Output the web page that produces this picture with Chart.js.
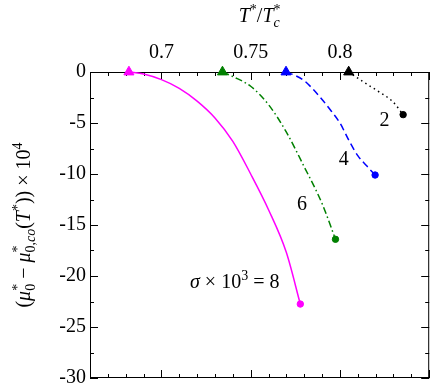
<!DOCTYPE html>
<html>
<head>
<meta charset="utf-8">
<script src="https://cdn.jsdelivr.net/npm/chart.js@4.4.1/dist/chart.umd.min.js"></script>
<style>
html,body{margin:0;padding:0;background:#fff;}
canvas{display:block;}
</style>
</head>
<body>
<canvas id="c" width="436" height="390"></canvas>
<script>
// ---- data ----
const xTickValues = [0.7, 0.75, 0.8];
const yTickValues = [0, -5, -10, -15, -20, -25, -30];

const sigmaLabels = ['8', '6', '4', '2'];

const temps8 = [0.6818, 0.690, 0.700, 0.710, 0.720, 0.730, 0.740, 0.750, 0.760, 0.770, 0.7778];
const mu8    = [0, -0.2, -0.75, -1.6, -2.85, -4.5, -6.8, -10.0, -13.5, -17.7, -22.75];

const temps6 = [0.7342, 0.740, 0.750, 0.760, 0.770, 0.780, 0.790, 0.7975];
const mu6    = [0, -0.45, -1.4, -3.2, -5.9, -9.3, -12.9, -16.4];

const temps4 = [0.7698, 0.775, 0.780, 0.785, 0.790, 0.795, 0.800, 0.805, 0.810, 0.815, 0.8197];
const mu4    = [0, -0.35, -0.85, -1.7, -2.7, -3.8, -5.0, -6.7, -8.2, -9.2, -10.1];

const temps2 = [0.8049, 0.8132, 0.8206, 0.8298, 0.8354];
const mu2    = [0, -0.98, -1.8, -2.94, -4.18];

// ---- styling ----
const FONT = '"Liberation Serif", "DejaVu Serif", serif';
const series = [
  {T: temps8, mu: mu8, color: '#ff00ff', dash: []},
  {T: temps6, mu: mu6, color: '#008000', dash: [7, 3, 1.5, 3]},
  {T: temps4, mu: mu4, color: '#0000ff', dash: [7, 4]},
  {T: temps2, mu: mu2, color: '#000000', dash: [1.5, 3.5]}
];

function toPoints(T, mu) { return T.map((t, i) => ({x: t, y: mu[i]})); }

const datasets = series.map((s, k) => ({
  label: sigmaLabels[k],
  data: toPoints(s.T, s.mu),
  showLine: true,
  borderColor: s.color,
  backgroundColor: s.color,
  borderWidth: 1.5,
  borderDash: s.dash,
  cubicInterpolationMode: 'monotone',
  clip: false,
  pointStyle: c => c.dataIndex === 0 ? 'triangle' : 'circle',
  pointRadius: c => c.dataIndex === 0 ? 5.8 : (c.dataIndex === c.dataset.data.length - 1 ? 3.2 : 0),
  pointHoverRadius: 0,
  pointBorderWidth: 1,
  pointBackgroundColor: s.color,
  pointBorderColor: s.color
}));

// ---- rich text helpers ----
function fnt(it, base) { return (it.it ? 'italic ' : '') + ((it.sz || 1) * base) + 'px ' + FONT; }
function measureItem(ctx, it, base) {
  if (it.stack) return Math.max(...it.stack.map(r => measureRun(ctx, r, base)));
  ctx.font = fnt(it, base);
  return ctx.measureText(it.t).width;
}
function measureRun(ctx, run, base) { return run.reduce((w, it) => w + measureItem(ctx, it, base), 0); }
function drawRun(ctx, run, x, y, base) {
  for (const it of run) {
    if (it.stack) { it.stack.forEach(r => drawRun(ctx, r, x, y, base)); }
    else { ctx.font = fnt(it, base); ctx.fillText(it.t, x, y + (it.dy || 0) * base); }
    x += measureItem(ctx, it, base);
  }
}
function drawRich(ctx, run, x, y, base, align) {
  const w = measureRun(ctx, run, base);
  let x0 = x;
  if (align === 'center') x0 = x - w / 2;
  else if (align === 'right') x0 = x - w;
  ctx.textAlign = 'left';
  ctx.textBaseline = 'alphabetic';
  drawRun(ctx, run, x0, y, base);
}
const SUP = (t, it) => ({t, it, sz: 0.7, dy: -0.38});
const SUB = (t, it) => ({t, it, sz: 0.7, dy: 0.25});

const yTitle = [
  {t: '('}, {t: 'μ', it: 1}, {stack: [[SUP('*')], [SUB('0')]]},
  {t: ' − '}, {t: 'μ', it: 1}, {stack: [[SUP('*')], [SUB('0,'), SUB('co', 1)]]},
  {t: '('}, {t: 'T', it: 1}, SUP('*'), {t: ')'}, {t: ')'},
  {t: ' × 10'}, {t: '4', sz: 0.7, dy: -0.4}
];
const xTitle = [
  {t: 'T', it: 1}, SUP('*'), {t: '/'}, {t: 'T', it: 1}, {stack: [[SUP('*')], [SUB('c', 1)]]}
];
const sigmaTitle = [
  {t: 'σ', it: 1}, {t: ' × 10'}, {t: '3', sz: 0.7, dy: -0.4}, {t: ' = '}, {t: sigmaLabels[0]}
];

// annotation anchors (data units)
const annotations = [
  {run: sigmaTitle, x: 0.7661, y: -21.18, align: 'right'},
  {run: [{t: sigmaLabels[1]}], x: 0.7788, y: -13.53, align: 'center'},
  {run: [{t: sigmaLabels[2]}], x: 0.8021, y: -9.12, align: 'center'},
  {run: [{t: sigmaLabels[3]}], x: 0.8250, y: -5.29, align: 'center'}
];

const framePlugin = {
  id: 'frame',
  beforeDraw(chart) {
    const ctx = chart.ctx;
    ctx.save();
    ctx.fillStyle = '#fff';
    ctx.fillRect(0, 0, chart.width, chart.height);
    ctx.restore();
  },
  beforeDatasetsDraw(chart) {
    const {ctx, chartArea: a, scales: {x, y}} = chart;
    ctx.save();
    ctx.strokeStyle = '#000';
    ctx.lineWidth = 1;
    ctx.strokeRect(a.left + 0.5, a.top + 0.5, a.right - a.left - 1, a.bottom - a.top - 1);
    ctx.beginPath();
    for (let i = 66; i <= 85; i++) {
      const px = Math.round(x.getPixelForValue(i / 100)) + 0.5;
      const len = i % 5 === 0 ? 8 : 4;
      ctx.moveTo(px, a.top); ctx.lineTo(px, a.top + len);
      ctx.moveTo(px, a.bottom); ctx.lineTo(px, a.bottom - len);
    }
    for (let j = 0; j <= 12; j++) {
      const v = -2.5 * j;
      const py = Math.round(y.getPixelForValue(v)) + 0.5;
      const len = j % 2 === 0 ? 8 : 4;
      ctx.moveTo(a.left, py); ctx.lineTo(a.left + len, py);
      ctx.moveTo(a.right, py); ctx.lineTo(a.right - len, py);
    }
    ctx.stroke();
    ctx.restore();
  },
  afterDraw(chart) {
    const {ctx, chartArea: a, scales: {x, y}} = chart;
    ctx.save();
    ctx.fillStyle = '#000';
    drawRich(ctx, xTitle, (a.left + a.right) / 2, 22, 20, 'center');
    ctx.translate(30, (a.top + a.bottom) / 2);
    ctx.rotate(-Math.PI / 2);
    drawRich(ctx, yTitle, 0, 0, 20, 'center');
    ctx.restore();
    ctx.save();
    ctx.fillStyle = '#000';
    for (const an of annotations) {
      drawRich(ctx, an.run, x.getPixelForValue(an.x), y.getPixelForValue(an.y), 20, an.align);
    }
    ctx.restore();
  }
};

new Chart(document.getElementById('c'), {
  type: 'scatter',
  data: {datasets},
  options: {
    responsive: false,
    animation: false,
    devicePixelRatio: 1,
    layout: {padding: {left: 0, right: 4, top: 0, bottom: 12}},
    plugins: {legend: {display: false}, tooltip: {enabled: false}},
    events: [],
    scales: {
      x: {
        type: 'linear', position: 'top', min: 0.66, max: 0.85,
        grid: {display: false, drawTicks: false},
        border: {display: false},
        afterBuildTicks: s => { s.ticks = xTickValues.map(v => ({value: v})); },
        afterFit: s => { s.height = 72; s.paddingLeft = 0; s.paddingRight = 0; },
        ticks: {
          color: '#000', padding: 7, maxRotation: 0, autoSkip: false,
          font: {family: FONT, size: 20},
          callback: v => String(+Number(v).toFixed(2))
        }
      },
      y: {
        type: 'linear', position: 'left', min: -30, max: 0,
        grid: {display: false, drawTicks: false},
        border: {display: false},
        afterBuildTicks: s => { s.ticks = yTickValues.map(v => ({value: v})); },
        afterFit: s => { s.width = 90; s.paddingTop = 0; s.paddingBottom = 0; },
        ticks: {
          color: '#000', padding: 4, autoSkip: false,
          font: {family: FONT, size: 20},
          callback: v => String(v)
        }
      }
    }
  },
  plugins: [framePlugin]
});
</script>
</body>
</html>
